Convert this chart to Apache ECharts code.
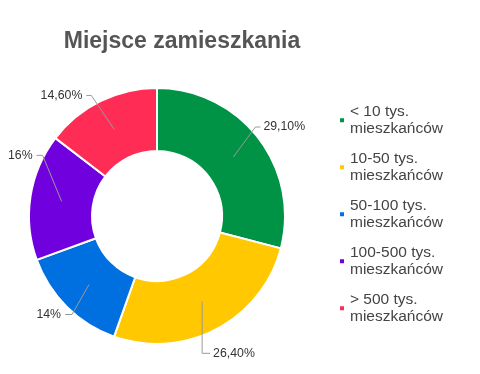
<!DOCTYPE html>
<html><head><meta charset="utf-8">
<script src="https://cdn.jsdelivr.net/npm/echarts@6/dist/echarts.min.js"></script>
<style>html,body{margin:0;padding:0;background:#fff}#c{width:480px;height:374px}</style>
</head><body><div id="c"></div>
<script>
const chartTitle = 'Miejsce zamieszkania';
const categories = ['< 10 tys. mieszkańców', '10-50 tys. mieszkańców', '50-100 tys. mieszkańców', '100-500 tys. mieszkańców', '> 500 tys. mieszkańców'];
const values = [29.1, 26.4, 14, 16, 14.6];
const valueLabels = ['29,10%', '26,40%', '14%', '16%', '14,60%'];
const colors = ['#009245', '#FFC800', '#0070E0', '#7000DD', '#FF2D55'];
// label guide styling: [turn dx, turn dy, horizontal run] relative to the library anchor
const labelGuides = [[22, -30, 5], [0, 52, 8], [-17, 30, 7], [-19, -46, 6], [-23, -34, 5]];

const FONT = 'Liberation Sans, Arial, sans-serif';
const chart = echarts.init(document.getElementById('c'), null, {renderer: 'canvas'});

const visibleData = categories.map((n, i) => ({name: n, value: values[i], itemStyle: {color: colors[i]}}));
const overlayData = categories.map((n, i) => ({name: n, value: values[i]}));

chart.setOption({
  animation: false,
  backgroundColor: '#ffffff',
  textStyle: {fontFamily: FONT},
  title: {
    text: chartTitle,
    left: 177, textAlign: 'center', top: 25,
    textStyle: {fontSize: 23, fontWeight: 'bold', color: '#555555', fontFamily: FONT}
  },
  legend: {
    orient: 'vertical',
    left: 338, top: 94,
    padding: 0,
    itemWidth: 6, itemHeight: 6,
    itemGap: -5.5,
    icon: 'rect',
    selectedMode: false,
    data: categories,
    textStyle: {
      fontSize: 15.5, color: '#444444', fontFamily: FONT,
      width: 112, overflow: 'break', lineHeight: 17.5,
      padding: [17.5, 0, 0, 0]
    }
  },
  series: [
    {
      type: 'pie',
      z: 2,
      center: [157, 216],
      radius: [65, 128],
      startAngle: 90,
      clockwise: true,
      silent: true,
      label: {show: false},
      labelLine: {show: false},
      itemStyle: {borderColor: '#ffffff', borderWidth: 2},
      emphasis: {disabled: true},
      data: visibleData
    },
    {
      type: 'pie',
      z: 5,
      center: [157, 216],
      radius: [0, 96.5],
      startAngle: 90,
      clockwise: true,
      silent: true,
      avoidLabelOverlap: false,
      itemStyle: {color: 'rgba(0,0,0,0)', borderWidth: 0},
      emphasis: {disabled: true},
      label: {
        show: true, position: 'outside',
        formatter: p => valueLabels[p.dataIndex],
        fontSize: 12.3, color: '#333333', fontFamily: FONT
      },
      labelLine: {show: true, length: 20, length2: 6, lineStyle: {color: '#9a9a9a', width: 1}},
      labelLayout: function (p) {
        const g = labelGuides[p.dataIndex];
        const pts = p.labelLinePoints;
        if (!pts || !g) return {};
        const p0 = pts[0];
        const right = g[0] >= 0;
        const turn = [p0[0] + g[0], p0[1] + g[1]];
        const end = [turn[0] + (right ? 1 : -1) * g[2], turn[1]];
        return {
          x: end[0] + (right ? 3 : -4), y: end[1],
          align: right ? 'left' : 'right', verticalAlign: 'middle',
          labelLinePoints: [p0, turn, end]
        };
      },
      data: overlayData
    }
  ]
});
</script></body></html>
